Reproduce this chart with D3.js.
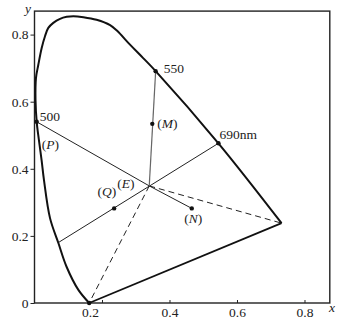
<!DOCTYPE html>
<html>
<head>
<meta charset="utf-8">
<title>Chromaticity diagram</title>
<script src="https://d3js.org/d3.v7.min.js"></script>
<style>
  body { margin: 0; background: #fff; }
  svg text { font-family: "Liberation Serif", "DejaVu Serif", serif; font-size: 13.5px; fill: #222; }
  .it { font-style: italic; }
</style>
</head>
<body>
<div id="chart"></div>
<script>
// spectral locus, from the 380nm end up the blue side, over the top, down to the red end
const locusX = [0.162, 0.130, 0.095, 0.071, 0.046, 0.028, 0.021, 0.013, 0.0065, 0.003, 0.0044, 0.0113,
                0.0213, 0.0311, 0.0409, 0.0557, 0.0756, 0.0954, 0.115, 0.145, 0.184, 0.224, 0.244,
                0.283, 0.322, 0.359, 0.545, 0.732];
const locusY = [0.000, 0.039, 0.108, 0.178, 0.253, 0.367, 0.426, 0.486, 0.540, 0.605, 0.671, 0.710,
                0.760, 0.795, 0.820, 0.835, 0.847, 0.853, 0.855, 0.852, 0.844, 0.828, 0.812,
                0.770, 0.730, 0.691, 0.476, 0.238];

// named points
const ptName = ["V", "R", "W500", "W550", "W690", "E", "M", "Q", "N", "L"];
const ptX    = [0.162, 0.732, 0.0065, 0.359, 0.545, 0.340, 0.349, 0.236, 0.466, 0.0705];
const ptY    = [0.000, 0.238, 0.540, 0.691, 0.476, 0.349, 0.534, 0.282, 0.282, 0.180];

const solidSegs  = [["W500", "E"], ["E", "N"], ["W690", "L"]];
const greySegs   = [["E", "W550"]];
const dashedSegs = [["E", "R"], ["E", "V"]];
const dotNames   = ["W500", "W550", "W690", "M", "Q", "N", "V"];

// label text: [before, italic part, after], attached to a point
const labelParts  = [["500", "", ""], ["(", "P", ")"], ["550", "", ""], ["(", "M", ")"],
                     ["690nm", "", ""], ["(", "Q", ")"], ["(", "E", ")"], ["(", "N", ")"]];
const labelAnchor = ["W500", "W500", "W550", "M", "W690", "Q", "E", "N"];

const xTicks = [0.2, 0.4, 0.6, 0.8];
const yTicks = [0, 0.2, 0.4, 0.6, 0.8];

const W = 339, H = 325;
const svg = d3.select("#chart").append("svg").attr("width", W).attr("height", H)
  .attr("font-family", "Liberation Serif, DejaVu Serif, serif");

const x = d3.scaleLinear().domain([0, 0.875]).range([34.5, 329.8]);
const y = d3.scaleLinear().domain([0, 0.87]).range([303, 11.1]);

const P = {};
ptName.forEach((n, i) => P[n] = [ptX[i], ptY[i]]);

// frame
svg.append("rect")
  .attr("x", x(0)).attr("y", y(0.87))
  .attr("width", x(0.875) - x(0)).attr("height", y(0) - y(0.87))
  .attr("fill", "none").attr("stroke", "#222").attr("stroke-width", 1.4);

// axes
const gx = svg.append("g").attr("transform", `translate(0,${y(0)})`)
  .call(d3.axisBottom(x).tickValues(xTicks).tickSize(-3).tickPadding(4).tickFormat(d3.format(".1f")));
const gy = svg.append("g").attr("transform", `translate(${x(0)},0)`)
  .call(d3.axisLeft(y).tickValues(yTicks).tickSize(4).tickPadding(2)
    .tickFormat(d => d === 0 ? "0" : d3.format(".1f")(d)));
[gx, gy].forEach(g => {
  g.attr("font-family", null).attr("font-size", null);
  g.select(".domain").remove();
  g.selectAll(".tick line").attr("stroke", "#222");
});
// the 0.2 label sits left of its tick in the original
gx.selectAll(".tick").filter(d => d === 0.2).select("text").attr("dx", -12);

svg.append("text").attr("class", "it").attr("x", 25).attr("y", 12.5).text("y");
svg.append("text").attr("class", "it").attr("x", 329).attr("y", 312).text("x");

const seg = s => [P[s[0]], P[s[1]]];
const line = d3.line().x(d => x(d[0])).y(d => y(d[1]));

// dashed lines to the ends of the purple line
svg.selectAll(".dash").data(dashedSegs).enter().append("path")
  .attr("d", d => line(seg(d)))
  .attr("fill", "none").attr("stroke", "#222").attr("stroke-width", 1)
  .attr("stroke-dasharray", "6,4");

svg.selectAll(".solid").data(solidSegs).enter().append("path")
  .attr("d", d => line(seg(d)))
  .attr("fill", "none").attr("stroke", "#222").attr("stroke-width", 1);

svg.selectAll(".grey").data(greySegs).enter().append("path")
  .attr("d", d => line(seg(d)))
  .attr("fill", "none").attr("stroke", "#666").attr("stroke-width", 1.2);

// spectral locus
const locus = locusX.map((v, i) => [v, locusY[i]]);
svg.append("path")
  .attr("d", d3.line().x(d => x(d[0])).y(d => y(d[1])).curve(d3.curveCatmullRom.alpha(0.5))(locus))
  .attr("fill", "none").attr("stroke", "#111").attr("stroke-width", 2);

// purple line
svg.append("path")
  .attr("d", line([P.V, P.R]))
  .attr("fill", "none").attr("stroke", "#111").attr("stroke-width", 1.8);

// dots
svg.selectAll(".dot").data(dotNames).enter().append("circle")
  .attr("cx", d => x(P[d][0])).attr("cy", d => y(P[d][1]))
  .attr("r", 2.2).attr("fill", "#111");

// labels
const offs = [[3, -1, "start"], [5, 27, "start"], [8, 2, "start"], [5, 4, "start"],
              [1, -4, "start"], [2, -12, "end"], [-32, 2, "start"], [1.5, 15, "middle"]];
labelParts.forEach((parts, i) => {
  const a = P[labelAnchor[i]], o = offs[i];
  const t = svg.append("text")
    .attr("x", x(a[0]) + o[0]).attr("y", y(a[1]) + o[1])
    .attr("text-anchor", o[2]);
  t.append("tspan").text(parts[0]);
  if (parts[1]) t.append("tspan").attr("class", "it").text(parts[1]);
  if (parts[2]) t.append("tspan").text(parts[2]);
});
</script>
</body>
</html>
